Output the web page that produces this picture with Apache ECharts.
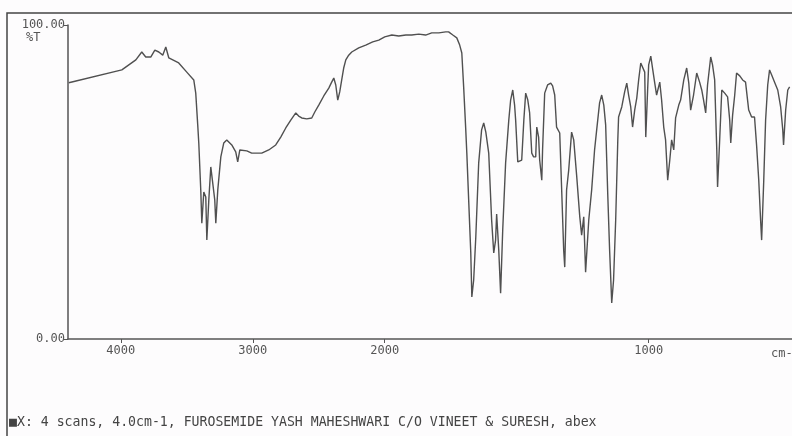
<!DOCTYPE html>
<html>
<head>
<meta charset="utf-8">
<script src="https://cdn.jsdelivr.net/npm/echarts@6/dist/echarts.min.js"></script>
<style>
  html, body { margin: 0; padding: 0; background: #fdfcfd; }
  #irChart { width: 792px; height: 436px; }
</style>
</head>
<body>
<div id="irChart"></div>
<script>
// wavenumber (cm-1)
var wavenumbers = [4394, 3992, 3886, 3841, 3811, 3773, 3742, 3712, 3682, 3659, 3636, 3561, 3500, 3447, 3432, 3417,
	3409, 3394, 3386, 3371, 3356, 3348, 3333, 3318, 3303, 3288, 3280, 3265, 3242, 3220, 3197, 3159, 3129, 3114,
	3098, 3083, 3045, 3008, 2932, 2879, 2826, 2788, 2750, 2712, 2674, 2652, 2629, 2591, 2553, 2530, 2500, 2462,
	2424, 2402, 2386, 2371, 2356, 2341, 2326, 2311, 2295, 2273, 2250, 2197, 2144, 2091, 2045, 2000, 1973, 1947,
	1920, 1898, 1871, 1845, 1822, 1795, 1769, 1758, 1742, 1727, 1716, 1708, 1701, 1693, 1689, 1682, 1674, 1670,
	1663, 1655, 1644, 1633, 1625, 1617, 1606, 1595, 1587, 1580, 1576, 1568, 1561, 1553, 1542, 1530, 1523, 1515,
	1508, 1504, 1496, 1489, 1481, 1473, 1466, 1458, 1451, 1443, 1436, 1428, 1424, 1417, 1413, 1405, 1402, 1394,
	1383, 1371, 1364, 1356, 1349, 1337, 1330, 1322, 1318, 1311, 1303, 1292, 1284, 1273, 1261, 1254, 1246, 1239,
	1227, 1216, 1205, 1197, 1186, 1178, 1170, 1163, 1155, 1148, 1140, 1133, 1125, 1117, 1114, 1102, 1091, 1083,
	1076, 1068, 1061, 1053, 1045, 1038, 1030, 1023, 1015, 1011, 1004, 1000, 992, 985, 977, 970, 958, 951, 943,
	936, 928, 920, 913, 905, 898, 886, 879, 867, 856, 848, 841, 830, 818, 807, 799, 792, 784, 777, 765, 758, 750,
	742, 739, 731, 723, 712, 701, 693, 689, 682, 674, 667, 655, 644, 633, 621, 610, 599, 591, 583, 576, 572, 564,
	557, 549, 542, 534, 523, 511, 500, 492, 489, 481, 473, 466];

// %T at each wavenumber
var transmittance = [81.6, 85.7, 88.9, 91.4, 89.8, 89.8, 92.0, 91.4, 90.4, 93.0, 89.5, 87.9, 85.0, 82.5, 78.3, 68.2,
	62.4, 47.5, 36.9, 46.8, 45.2, 31.5, 44.3, 54.8, 55.4, 44.3, 36.9, 47.5, 58.0, 62.4, 63.4, 61.8, 59.6, 56.4,
	60.2, 60.8, 59.9, 59.2, 59.2, 60.2, 61.8, 64.3, 67.2, 69.7, 72.0, 71.0, 70.4, 70.1, 70.4, 72.3, 74.5, 77.4,
	79.9, 81.8, 83.1, 80.9, 76.1, 78.7, 82.5, 86.3, 88.9, 90.4, 91.4, 92.7, 93.6, 94.6, 95.2, 96.2, 96.8, 96.5,
	96.8, 96.8, 97.1, 96.8, 97.5, 97.5, 97.8, 97.8, 96.8, 95.9, 93.6, 91.1, 80.3, 66.6, 59.2, 44.3, 27.4, 13.4,
	18.8, 32.5, 56.1, 66.6, 68.8, 65.9, 59.2, 37.9, 27.4, 31.5, 39.8, 28.3, 14.6, 34.7, 56.1, 69.7, 76.1, 79.3,
	74.5, 69.7, 56.4, 56.4, 57.0, 69.7, 78.3, 76.1, 72.0, 59.2, 58.0, 58.0, 67.5, 64.3, 57.0, 50.6, 60.2, 78.3,
	80.9, 81.5, 80.6, 77.7, 67.5, 65.6, 48.4, 28.3, 22.9, 47.5, 53.8, 65.9, 63.4, 52.2, 38.9, 33.1, 38.9, 21.3,
	37.9, 47.5, 60.2, 66.6, 75.2, 77.7, 74.5, 68.2, 45.9, 28.3, 11.5, 18.8, 37.9, 63.4, 70.7, 73.9, 78.7, 81.5,
	77.7, 73.9, 67.5, 72.9, 76.8, 82.5, 87.9, 88.2, 85.0, 64.3, 79.3, 87.3, 90.1, 86.0, 81.5, 77.7, 81.8, 76.1, 67.5,
	63.4, 50.6, 57.0, 63.4, 60.2, 70.4, 74.5, 76.1, 82.5, 86.3, 81.5, 72.9, 77.7, 84.7, 81.8, 79.3, 76.1, 72.0, 80.9, 89.8, 87.3, 82.5,
	60.2, 48.4, 63.4, 79.3, 78.3, 77.1, 69.7, 62.4, 71.3, 77.7, 84.7, 83.8, 82.5, 81.8, 72.9, 70.7, 70.7, 61.5, 50.6, 37.9, 31.5, 50.6,
	69.7, 80.9, 85.7, 84.1, 81.8, 79.3, 73.9, 66.6, 61.8, 72.9, 79.3, 80.3];

var tickLabels = [4000, 3000, 2000, 1000];
var yTicks = [0, 100];
var footerText = "\u25A0X: 4 scans, 4.0cm-1, FUROSEMIDE YASH MAHESHWARI C/O VINEET & SURESH, abex";

var inkColor = "#555555";
var monoFont = "DejaVu Sans Mono";

// the scale is doubled below 2000 cm-1, so map wavenumber to a linear position
function toPos(w) {
	if (w >= 2000)
		return 4000 - w;
	return 2000 + 2 * (2000 - w);
}

function toWavenumber(p) {
	if (p <= 2000)
		return 4000 - p;
	return 2000 - (p - 2000) / 2;
}

var seriesData = [];
for (var i = 0; i < wavenumbers.length; i++) {
	seriesData.push([toPos(wavenumbers[i]), transmittance[i]]);
}
var tickPos = tickLabels.map(toPos);

var myChart = echarts.init(document.getElementById('irChart'), null, {renderer: 'canvas'});

var option = {
	backgroundColor: '#fdfcfd',
	animation: false,
	grid: {
		left: 68,
		right: 0,
		top: 25,
		bottom: 97
	},
	xAxis: {
		type: 'value',
		min: toPos(4400),
		max: toPos(457),
		splitLine: {show: false},
		axisLine: {onZero: false, lineStyle: {color: inkColor, width: 1.5}},
		axisTick: {
			customValues: tickPos,
			length: 4,
			lineStyle: {color: inkColor}
		},
		axisLabel: {
			customValues: tickPos,
			margin: 6,
			color: inkColor,
			fontFamily: monoFont,
			fontSize: 12,
			formatter: function (v) {
				return String(Math.round(toWavenumber(v)));
			}
		}
	},
	yAxis: {
		type: 'value',
		min: 0,
		max: 100,
		splitLine: {show: false},
		axisLine: {show: true, onZero: false, lineStyle: {color: inkColor, width: 1.5}},
		axisTick: {
			customValues: yTicks,
			length: 4,
			lineStyle: {color: inkColor}
		},
		axisLabel: {
			customValues: yTicks,
			margin: 3,
			color: inkColor,
			fontFamily: monoFont,
			fontSize: 12,
			formatter: function (v) {
				return v.toFixed(2);
			}
		}
	},
	series: [{
		name: '%T',
		type: 'line',
		data: seriesData,
		showSymbol: false,
		clip: true,
		lineStyle: {color: '#505050', width: 1.4},
		z: 3
	}],
	graphic: [
		{
			type: 'rect',
			shape: {x: 7, y: 13, width: 900, height: 500},
			style: {fill: 'none', stroke: '#444444', lineWidth: 1.5},
			silent: true
		},
		{
			type: 'text',
			left: 26,
			top: 32,
			style: {text: '%T', fill: inkColor, font: '12px "DejaVu Sans Mono"'}
		},
		{
			type: 'text',
			left: 771,
			top: 348,
			style: {text: 'cm-1', fill: inkColor, font: '12px "DejaVu Sans Mono"'}
		},
		{
			type: 'text',
			left: 9,
			top: 416,
			style: {text: footerText, fill: '#444444', font: '13.2px "DejaVu Sans Mono"'}
		}
	]
};

myChart.setOption(option);
</script>
</body>
</html>
